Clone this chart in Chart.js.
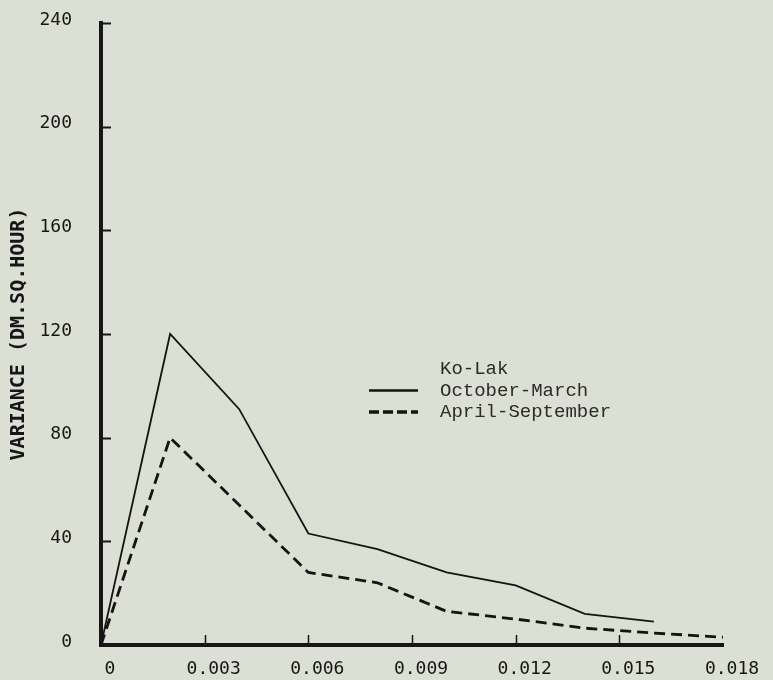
<!DOCTYPE html>
<html>
<head>
<meta charset="utf-8">
<title>Ko-Lak variance</title>
<script src="https://cdn.jsdelivr.net/npm/chart.js@4/dist/chart.umd.min.js"></script>
<style>
    html, body { margin: 0; padding: 0; background: #dcdfd4; }
    #wrap { width: 773px; height: 680px; position: relative; }
</style>
</head>
<body>
<div id="wrap"><canvas id="kolakChart" width="773" height="680"></canvas></div>
<script>
// frequências (eixo x) e variâncias por período
var frequencias = [0, 0.002, 0.004, 0.006, 0.008, 0.010, 0.012, 0.014, 0.016, 0.018];
var outubroMarco = [0, 120, 91, 43, 37, 28, 23, 12, 9];
var abrilSetembro = [0, 80, 54, 28, 24, 13, 10, 6.5, 4.6, 3];
var xTicks = [0, 0.003, 0.006, 0.009, 0.012, 0.015, 0.018];
var yTicks = [0, 40, 80, 120, 160, 200, 240];
var tituloLegenda = 'Ko-Lak';
var nomesSeries = ['October-March', 'April-September'];
var tituloY = 'VARIANCE (DM.SQ.HOUR)';

var corTinta = '#161616';

function pares(valores) {
    return valores.map(function (v, i) { return { x: frequencias[i], y: v }; });
}

// marcas dos ticks voltadas para dentro do gráfico
var ticksInternos = {
    id: 'ticksInternos',
    afterDraw: function (chart) {
        var ctx = chart.ctx;
        var area = chart.chartArea;
        var sx = chart.scales.x, sy = chart.scales.y;
        ctx.save();
        ctx.strokeStyle = corTinta;
        ctx.lineWidth = 2;
        yTicks.forEach(function (v) {
            if (v === 0) return;
            var py = Math.round(sy.getPixelForValue(v)) + 0.5;
            ctx.beginPath();
            ctx.moveTo(area.left, py);
            ctx.lineTo(area.left + 10, py);
            ctx.stroke();
        });
        ctx.lineWidth = 1.5;
        xTicks.forEach(function (v, i) {
            if (i === 0 || i === xTicks.length - 1) return;
            var px = Math.round(sx.getPixelForValue(v)) + 0.5;
            ctx.beginPath();
            ctx.moveTo(px, area.bottom);
            ctx.lineTo(px, area.bottom - 10);
            ctx.stroke();
        });
        ctx.restore();
    }
};

// legenda datilografada dentro da área do gráfico
var legendaTexto = {
    id: 'legendaTexto',
    afterDraw: function (chart) {
        var ctx = chart.ctx;
        var area = chart.chartArea;
        var x0 = area.left + 268, xt = area.left + 339, y0 = 369, passo = 21.5;
        ctx.save();
        ctx.font = '19px "Liberation Mono"';
        ctx.fillStyle = '#2b2b2b';
        ctx.textBaseline = 'middle';
        ctx.fillText(tituloLegenda, xt, y0);
        chart.data.datasets.forEach(function (ds, i) {
            var y = y0 + passo * (i + 1);
            ctx.strokeStyle = ds.borderColor;
            ctx.lineWidth = ds.borderWidth + 0.5;
            ctx.setLineDash(ds.borderDash ? [10, 4] : []);
            ctx.beginPath();
            ctx.moveTo(x0, y);
            ctx.lineTo(x0 + 49, y);
            ctx.stroke();
            ctx.setLineDash([]);
            ctx.fillText(ds.label, xt, y);
        });
        ctx.restore();
    }
};

new Chart(document.getElementById('kolakChart'), {
    type: 'line',
    data: {
        datasets: [{
            label: nomesSeries[0],
            data: pares(outubroMarco),
            borderColor: '#141414',
            borderWidth: 1.8,
            pointRadius: 0,
            tension: 0,
            fill: false
        }, {
            label: nomesSeries[1],
            data: pares(abrilSetembro),
            borderColor: '#141414',
            borderWidth: 2.8,
            borderDash: [11, 6],
            pointRadius: 0,
            tension: 0,
            fill: false
        }]
    },
    options: {
        responsive: false,
        animation: false,
        layout: { padding: { left: 0, top: 23, right: 50, bottom: 0 } },
        plugins: {
            legend: { display: false },
            tooltip: { enabled: false }
        },
        scales: {
            x: {
                type: 'linear',
                min: 0,
                max: 0.018,
                afterFit: function (s) {
                    s.height = 35;
                    s.paddingLeft = 0; s.paddingRight = 0;
                },
                afterBuildTicks: function (s) {
                    s.ticks = xTicks.map(function (v) { return { value: v }; });
                },
                grid: { display: false, drawTicks: false },
                border: { display: true, color: corTinta, width: 4 },
                ticks: {
                    color: corTinta,
                    padding: 14,
                    labelOffset: 9,
                    maxRotation: 0,
                    font: { family: '"DejaVu Sans Mono"', size: 18 },
                    callback: function (v) { return v === 0 ? '0' : v.toFixed(3); }
                }
            },
            y: {
                min: 0,
                max: 240,
                afterFit: function (s) {
                    s.width = 101;
                    s.paddingTop = 0; s.paddingBottom = 0;
                },
                afterBuildTicks: function (s) {
                    s.ticks = yTicks.map(function (v) { return { value: v }; });
                },
                grid: { display: false, drawTicks: false },
                border: { display: true, color: corTinta, width: 4 },
                title: {
                    display: true,
                    text: tituloY,
                    color: corTinta,
                    padding: { top: 7, bottom: 0 },
                    font: { family: '"DejaVu Sans Mono"', size: 20, weight: 'bold' }
                },
                ticks: {
                    color: corTinta,
                    padding: 29,
                    labelOffset: -3,
                    font: { family: '"DejaVu Sans Mono"', size: 18 }
                }
            }
        }
    },
    plugins: [ticksInternos, legendaTexto]
});
</script>
</body>
</html>
